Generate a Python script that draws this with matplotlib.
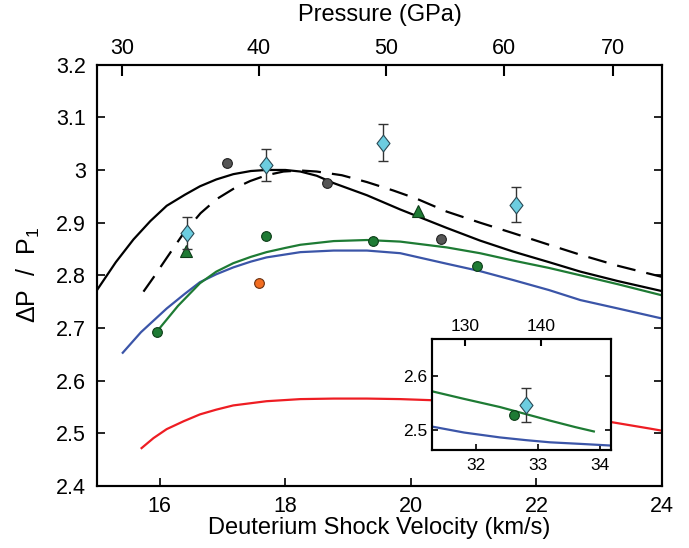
import matplotlib
matplotlib.use('Agg')
import matplotlib.pyplot as plt

plt.rcParams.update({
    'font.family': ['Liberation Sans', 'DejaVu Sans'],
    'font.size': 15.5,
    'mathtext.fontset': 'custom',
    'mathtext.rm': 'Liberation Sans',
    'mathtext.it': 'Liberation Sans',
    'axes.linewidth': 1.5,
    'xtick.direction': 'in',
    'ytick.direction': 'in',
    'xtick.major.size': 6,
    'ytick.major.size': 6,
    'xtick.major.width': 1.2,
    'ytick.major.width': 1.2,
})

# model curves (shock velocity km/s -> dP/P1)
solid_x = [15.0, 15.3, 15.58, 15.85, 16.11, 16.4, 16.64, 16.9, 17.17, 17.45, 17.70, 18.0,
           18.24, 18.5, 18.77, 19.3, 19.83, 20.57, 21.1, 21.63, 22.2, 22.70, 23.3, 24.0]
solid_y = [2.772, 2.825, 2.868, 2.903, 2.932, 2.953, 2.969, 2.982, 2.992, 2.998, 3.000, 3.000,
           2.997, 2.989, 2.975, 2.952, 2.925, 2.890, 2.866, 2.845, 2.825, 2.807, 2.789, 2.770]

dash_x = [15.74, 15.9, 16.11, 16.38, 16.65, 16.91, 17.17, 17.44, 17.7, 17.97, 18.24, 18.5,
          18.9, 19.3, 19.72, 20.1, 20.57, 21.1, 21.63, 22.2, 22.7, 23.3, 24.0]
dash_y = [2.769, 2.796, 2.833, 2.880, 2.918, 2.945, 2.964, 2.979, 2.990, 2.997, 2.999, 2.997,
          2.990, 2.977, 2.961, 2.945, 2.921, 2.900, 2.880, 2.858, 2.839, 2.818, 2.797]

green_x = [16.0, 16.29, 16.64, 16.9, 17.17, 17.45, 17.70, 18.0, 18.24, 18.77, 19.3, 19.83,
           20.57, 21.1, 21.63, 22.2, 22.7, 23.3, 24.0]
green_y = [2.700, 2.742, 2.785, 2.807, 2.823, 2.835, 2.844, 2.852, 2.858, 2.865, 2.867, 2.864,
           2.853, 2.842, 2.828, 2.814, 2.800, 2.783, 2.762]

blue_x = [15.41, 15.7, 16.11, 16.4, 16.64, 16.9, 17.17, 17.45, 17.7, 18.24, 18.77, 19.3,
          19.83, 20.57, 21.1, 21.63, 22.2, 22.7, 23.3, 24.0]
blue_y = [2.653, 2.692, 2.737, 2.765, 2.787, 2.802, 2.815, 2.826, 2.834, 2.844, 2.847, 2.847,
          2.842, 2.822, 2.808, 2.791, 2.772, 2.753, 2.737, 2.718]

red_x = [15.71, 15.9, 16.11, 16.38, 16.64, 16.9, 17.17, 17.7, 18.24, 18.77, 19.3, 19.83,
         20.31, 20.8, 21.5, 22.3, 23.21, 23.81, 24.0]
red_y = [2.472, 2.491, 2.508, 2.523, 2.536, 2.545, 2.553, 2.561, 2.565, 2.566, 2.566, 2.565,
         2.563, 2.558, 2.548, 2.535, 2.521, 2.509, 2.505]

# measurements
gray_x = [17.07, 18.67, 20.48]
gray_y = [3.013, 2.976, 2.868]
green_pt_x = [15.96, 17.69, 19.39, 21.05]
green_pt_y = [2.693, 2.874, 2.865, 2.818]
orange_x = [17.58]
orange_y = [2.785]
tri_x = [16.42, 20.11]
tri_y = [2.846, 2.923]
dia_x = [16.43, 17.69, 19.56, 21.68]
dia_y = [2.880, 3.009, 3.052, 2.934]
dia_err = [0.030, 0.030, 0.035, 0.033]

# pressure axis (GPa) and where its ticks fall on the velocity axis
p_ticks = [30, 40, 50, 60, 70]
p_at_vel = [15.40, 17.58, 19.61, 21.49, 23.22]

# inset
in_green_x = [31.28, 31.8, 32.38, 32.8, 33.19, 33.6, 33.9]
in_green_y = [2.571, 2.557, 2.542, 2.529, 2.517, 2.505, 2.497]
in_blue_x = [31.28, 31.8, 32.38, 32.8, 33.19, 33.7, 34.18]
in_blue_y = [2.506, 2.495, 2.486, 2.481, 2.477, 2.474, 2.471]
in_green_pt = (32.61, 2.527)
in_dia = (32.80, 2.546, 0.031)
in_p_ticks = [130, 140]
in_p_at_vel = [31.81, 33.05]

green = '#1e7b34'
blue = '#3b55a8'
red = '#ee1d23'
cyan = '#6ccde0'
# MATLAB-style diamond: taller than wide
diamond = [(0, 1), (0.78, 0), (0, -1), (-0.78, 0), (0, 1)]

fig = plt.figure(figsize=(6.89, 5.48), dpi=100)
ax = fig.add_axes([0.1408, 0.1131, 0.820, 0.769])

lw = 1.6
ax.plot(red_x, red_y, color=red, lw=lw)
ax.plot(blue_x, blue_y, color=blue, lw=lw)
ax.plot(green_x, green_y, color=green, lw=lw)
ax.plot(solid_x, solid_y, color='black', lw=lw)
ax.plot(dash_x, dash_y, color='black', lw=lw, dashes=(8.5, 5))

ax.plot(gray_x, gray_y, 'o', ms=7, mfc='#555555', mec='#222222', mew=0.8)
ax.plot(green_pt_x, green_pt_y, 'o', ms=7, mfc=green, mec='#0d3d18', mew=0.8)
ax.plot(orange_x, orange_y, 'o', ms=7, mfc='#f26d21', mec='#6a3010', mew=0.8)
ax.plot(tri_x, tri_y, '^', ms=9, mfc=green, mec='#0d3d18', mew=0.8)
ax.errorbar(dia_x, dia_y, yerr=dia_err, fmt='none', ecolor='#333333', elinewidth=1,
            capsize=3.5, zorder=4)
ax.plot(dia_x, dia_y, ls='none', marker=diamond, ms=12, mfc=cyan, mec='#2a4a55',
        mew=0.8, zorder=5)

ax.set_xlim(15, 24)
ax.set_ylim(2.4, 3.2)
ax.set_xticks([16, 18, 20, 22, 24])
ax.set_yticks([2.4, 2.5, 2.6, 2.7, 2.8, 2.9, 3.0, 3.1, 3.2])
ax.set_yticklabels(['2.4', '2.5', '2.6', '2.7', '2.8', '2.9', '3', '3.1', '3.2'])
ax.tick_params(axis='y', right=True, pad=8)
ax.tick_params(axis='x', top=True, pad=7)
ax.set_xlabel('Deuterium Shock Velocity (km/s)', fontsize=17, labelpad=0)
ax.set_ylabel('ΔP  /  P$_1$', fontsize=18, labelpad=10)

ax2 = ax.twiny()
ax2.set_xlim(15, 24)
ax2.set_xticks(p_at_vel)
ax2.set_xticklabels([str(p) for p in p_ticks])
ax2.tick_params(axis='x', direction='in', length=8, width=1.5, pad=4)
ax2.set_xlabel('Pressure (GPa)', fontsize=17, labelpad=12)

# inset
ins = fig.add_axes([0.627, 0.179, 0.260, 0.203])
ins.set_zorder(10)
ins.set_facecolor('white')
ins.plot(in_blue_x, in_blue_y, color=blue, lw=lw)
ins.plot(in_green_x, in_green_y, color=green, lw=lw)
ins.plot([in_green_pt[0]], [in_green_pt[1]], 'o', ms=7, mfc=green, mec='#0d3d18', mew=0.8)
ins.errorbar([in_dia[0]], [in_dia[1]], yerr=[in_dia[2]], fmt='none', ecolor='#333333',
             elinewidth=1, capsize=3.5)
ins.plot([in_dia[0]], [in_dia[1]], ls='none', marker=diamond, ms=12, mfc=cyan,
         mec='#2a4a55', mew=0.8)
ins.set_xlim(31.28, 34.18)
ins.set_ylim(2.463, 2.668)
ins.set_xticks([32, 33, 34])
ins.set_yticks([2.5, 2.6])
ins.tick_params(labelsize=12.5, length=4, top=True, right=True)
ins.tick_params(axis='x', pad=6)
ins2 = ins.twiny()
ins2.set_xlim(31.28, 34.18)
ins2.set_xticks(in_p_at_vel)
ins2.set_xticklabels([str(p) for p in in_p_ticks])
ins2.tick_params(axis='x', direction='in', labelsize=12.5, length=5, width=1.5)

fig.savefig('out.png', dpi=100)
